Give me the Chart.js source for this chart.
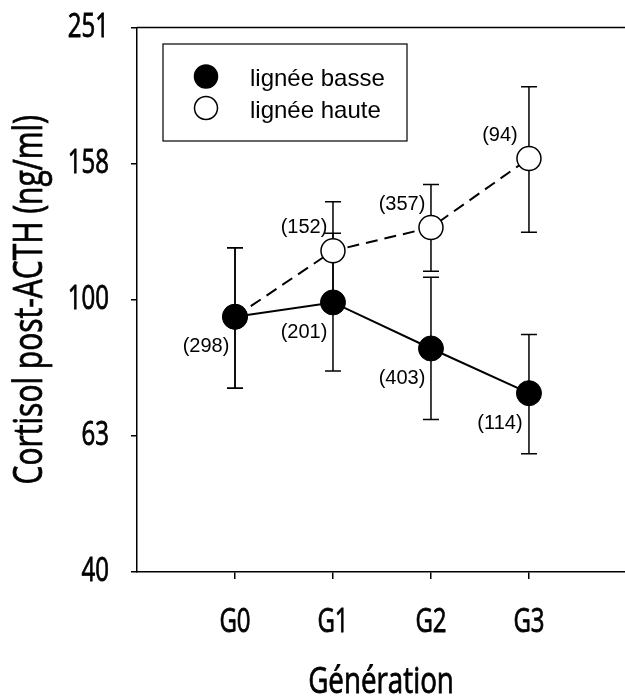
<!DOCTYPE html>
<html>
<head>
<meta charset="utf-8">
<script src="https://cdn.jsdelivr.net/npm/chart.js@4.4.1/dist/chart.umd.min.js"></script>
<style>
  html, body { margin: 0; padding: 0; background: #fff; }
  #wrap { width: 625px; height: 698px; }
</style>
</head>
<body>
<div id="wrap"><canvas id="chart"></canvas></div>
<script>
// values (geometric means, ng/ml)
const generations = ['G0', 'G1', 'G2', 'G3'];
const basseMean = [94.4, 99.1, 84.8, 72.9];
const basseLow = [74.1, 78.6, 66.7, 59.4];
const basseHigh = [119.2, 125.2, 107.9, 88.9];
const basseN = [298, 201, 403, 114];
const hauteMean = [94.4, 118.0, 127.7, 161.3];
const hauteLow = [74.1, 100.0, 110.1, 125.6];
const hauteHigh = [119.2, 139.3, 147.7, 205.6];
const hauteN = [null, 152, 357, 94];
const yTickValues = [39.81, 63.1, 100, 158.49, 251.19];
const yTickLabels = ['40', '63', '100', '158', '251'];

// no condensed face installed, so axis text is squeezed horizontally
const axisFamily = 'Open Sans';
const axisFont = "'Open Sans', 'Noto Sans', sans-serif";
const textFont = "'Liberation Sans', Arial, sans-serif";
const condense = 0.75;

const toPoints = (values) => values.map((v, i) => ({ x: i, y: v }));

const condensedText = {
    id: 'condensedText',
    beforeDraw(chart) {
        const ctx = chart.ctx;
        if (ctx._condensed) return;
        const fill = ctx.fillText;
        ctx.fillText = function (text, x, y, maxWidth) {
            if (!this.font.includes(axisFamily)) return fill.call(this, text, x, y, maxWidth);
            const mw = maxWidth === undefined ? undefined : maxWidth / condense;
            this.save();
            this.translate(x, y);
            this.scale(condense, 1);
            if (mw === undefined) fill.call(this, text, 0, 0);
            else fill.call(this, text, 0, 0, mw);
            // thicken the stems a little after the squeeze
            this.lineWidth = 0.8;
            this.strokeStyle = this.fillStyle;
            if (mw === undefined) this.strokeText(text, 0, 0);
            else this.strokeText(text, 0, 0, mw);
            this.restore();
        };
        ctx._condensed = true;
    },
};

// whiskers under the markers
const errorBars = {
    id: 'errorBars',
    beforeDatasetsDraw(chart) {
        const { ctx, scales: { x, y } } = chart;
        ctx.save();
        ctx.strokeStyle = '#000';
        ctx.lineWidth = 1.5;
        chart.data.datasets.forEach((ds) => {
            ds.errLow.forEach((lo, i) => {
                const px = x.getPixelForValue(i);
                const top = y.getPixelForValue(ds.errHigh[i]);
                const bot = y.getPixelForValue(lo);
                ctx.beginPath();
                ctx.moveTo(px, top); ctx.lineTo(px, bot);
                ctx.moveTo(px - 8, top); ctx.lineTo(px + 8, top);
                ctx.moveTo(px - 8, bot); ctx.lineTo(px + 8, bot);
                ctx.stroke();
            });
        });
        ctx.restore();
    },
};

// sample sizes next to each point
const countLabels = {
    id: 'countLabels',
    afterDatasetsDraw(chart) {
        const { ctx } = chart;
        ctx.save();
        ctx.fillStyle = '#000';
        ctx.font = '20px ' + textFont;
        ctx.textAlign = 'center';
        ctx.textBaseline = 'middle';
        chart.data.datasets.forEach((ds, di) => {
            const meta = chart.getDatasetMeta(di);
            const dy = ds.labelSide === 'above' ? -23 : 30;
            ds.counts.forEach((n, i) => {
                if (n == null) return;
                const pt = meta.data[i];
                ctx.fillText('(' + n + ')', pt.x - 29, pt.y + dy);
            });
        });
        ctx.restore();
    },
};

// top frame line + boxed legend inside the plot
const frameAndLegend = {
    id: 'frameAndLegend',
    afterDraw(chart) {
        const { ctx, chartArea } = chart;
        ctx.save();
        ctx.strokeStyle = '#000';
        ctx.lineWidth = 1.5;
        ctx.beginPath();
        ctx.moveTo(chartArea.left, chartArea.top);
        ctx.lineTo(chart.width, chartArea.top);
        ctx.stroke();

        const bx = chartArea.left + 26, by = chartArea.top + 16.5;
        ctx.lineWidth = 1.2;
        ctx.strokeRect(bx, by, 244, 97);
        ctx.font = '24px ' + textFont;
        ctx.textAlign = 'left';
        ctx.textBaseline = 'alphabetic';
        chart.data.datasets.forEach((ds, i) => {
            const cy = by + 32.5 + i * 31.5;
            ctx.beginPath();
            ctx.arc(bx + 43, cy, 11.5, 0, Math.PI * 2);
            ctx.fillStyle = ds.pointBackgroundColor;
            ctx.fill();
            ctx.lineWidth = 1.5;
            ctx.stroke();
            ctx.fillStyle = '#000';
            ctx.fillText(ds.label, bx + 87, cy + 9.5);
        });
        ctx.restore();
    },
};

new Chart(document.getElementById('chart'), {
    type: 'line',
    data: {
        datasets: [
            {
                label: 'lignée basse',
                data: toPoints(basseMean),
                errLow: basseLow,
                errHigh: basseHigh,
                counts: basseN,
                labelSide: 'below',
                borderColor: '#000',
                borderWidth: 2,
                pointRadius: 12.5,
                pointBackgroundColor: '#000',
                pointBorderColor: '#000',
                pointBorderWidth: 1,
            },
            {
                label: 'lignée haute',
                data: toPoints(hauteMean),
                errLow: hauteLow,
                errHigh: hauteHigh,
                counts: hauteN,
                labelSide: 'above',
                borderColor: '#000',
                borderWidth: 2,
                borderDash: [12, 7],
                pointRadius: 12,
                pointBackgroundColor: '#fff',
                pointBorderColor: '#000',
                pointBorderWidth: 1.5,
            },
        ],
    },
    options: {
        responsive: true,
        maintainAspectRatio: false,
        animation: false,
        layout: { autoPadding: false, padding: { top: 27.5, right: 0, bottom: 0, left: 0 } },
        plugins: { legend: { display: false }, tooltip: { enabled: false } },
        scales: {
            x: {
                type: 'linear',
                min: -1,
                max: 3.98,
                afterFit: (scale) => {
                    scale.height = 126;
                    scale.paddingLeft = 0;
                    scale.paddingRight = 0;
                },
                afterBuildTicks: (scale) => { scale.ticks = generations.map((g, i) => ({ value: i })); },
                grid: { drawOnChartArea: false, color: '#000', lineWidth: 1.5, tickLength: 7 },
                border: { color: '#000', width: 1.5 },
                ticks: {
                    color: '#000',
                    padding: 25,
                    maxRotation: 0,
                    font: { family: axisFont, size: 32 },
                    callback: (v) => generations[v],
                },
                title: {
                    display: true,
                    text: 'Génération',
                    color: '#000',
                    padding: { top: 0, bottom: 0 },
                    font: { family: axisFont, size: 37, lineHeight: 0.85 },
                },
            },
            y: {
                type: 'logarithmic',
                min: yTickValues[0],
                max: yTickValues[yTickValues.length - 1],
                afterFit: (scale) => {
                    scale.width = 137;
                    scale.paddingTop = 0;
                    scale.paddingBottom = 0;
                },
                afterBuildTicks: (scale) => { scale.ticks = yTickValues.map((v) => ({ value: v })); },
                grid: { drawOnChartArea: false, color: '#000', lineWidth: 1.5, tickLength: 6 },
                border: { color: '#000', width: 1.5 },
                ticks: {
                    color: '#000',
                    padding: 22,
                    font: { family: axisFont, size: 32 },
                    callback: (v, i) => yTickLabels[i],
                },
                title: {
                    display: true,
                    text: 'Cortisol post-ACTH (ng/ml)',
                    color: '#000',
                    padding: { top: 7, bottom: 0 },
                    font: { family: axisFont, size: 40 },
                },
            },
        },
    },
    plugins: [condensedText, errorBars, countLabels, frameAndLegend],
});
</script>
</body>
</html>
